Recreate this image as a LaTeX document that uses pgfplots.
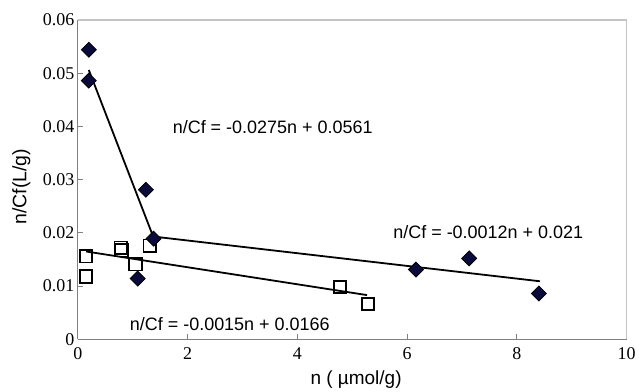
\documentclass[border=0pt]{standalone}
\usepackage{fontspec}
\setmainfont{Liberation Sans}
\newfontfamily\tickfont{Liberation Serif}
\usepackage{pgfplots}
\pgfplotsset{compat=1.18}
\definecolor{navy}{HTML}{0B0B3B}
\definecolor{axgray}{HTML}{808080}
\definecolor{boxgray}{HTML}{C4C4C4}
\begin{document}
\begin{tikzpicture}
\begin{axis}[
  scale only axis, width=550pt, height=320pt,
  xmin=0, xmax=10, ymin=0, ymax=0.06,
  axis x line*=bottom, axis y line*=left,
  axis line style={draw=axgray, line width=1.2pt},
  tick align=inside, major tick length=5pt,
  tick style={draw=axgray, line width=1pt},
  xtick={0,2,4,6,8,10}, xticklabels={0,2,4,6,8,10},
  ytick={0,0.01,0.02,0.03,0.04,0.05,0.06},
  yticklabels={0,0.01,0.02,0.03,0.04,0.05,0.06},
  scaled y ticks=false, scaled x ticks=false,
  ticklabel style={font=\tickfont\fontsize{18}{20}\selectfont},
  xticklabel style={yshift=-5pt},
  xlabel={n ( µmol/g)}, ylabel={n/Cf(L/g)},
  xlabel style={font=\fontsize{19}{22}\selectfont, at={(axis description cs:0.507,-0.125)}, anchor=center},
  ylabel style={font=\fontsize{19.5}{22}\selectfont, at={(axis description cs:-0.103,0.478)}, anchor=center},
  clip=false,
]
\draw[boxgray, line width=1.2pt] (rel axis cs:0,1) -- (rel axis cs:1,1) -- (rel axis cs:1,0);
% fitted lines
\addplot[black, line width=1.8pt, no marks] coordinates {(0.2,0.0506) (1.38,0.0191)};
\addplot[black, line width=1.8pt, no marks] coordinates {(1.38,0.0193) (8.42,0.0109)};
\addplot[black, line width=1.8pt, no marks] coordinates {(0.15,0.0165) (5.27,0.0083)};
% open squares
\addplot[only marks, mark=square, mark size=6.2pt, mark options={draw=black, line width=1.8pt}] coordinates {
 (0.15,0.0156) (0.15,0.0118) (0.78,0.0172) (0.80,0.0167) (1.05,0.0141) (1.31,0.0176) (4.78,0.0098) (5.29,0.0066)};
% diamonds
\addplot[only marks, mark=square*, mark size=5.3pt, mark options={rotate=45, fill=navy, draw=black, line width=0.8pt}] coordinates {
 (0.2,0.0544) (0.2,0.0486) (1.24,0.0281) (1.38,0.0189) (1.09,0.0114) (6.16,0.0131) (7.13,0.0152) (8.4,0.0086)};
\node[anchor=west, inner sep=0, font=\fontsize{18}{20}\selectfont] at (axis cs:1.727,0.0399) {n/Cf = -0.0275n + 0.0561};
\node[anchor=west, inner sep=0, font=\fontsize{18}{20}\selectfont] at (axis cs:5.745,0.0201) {n/Cf = -0.0012n + 0.021};
\node[anchor=west, inner sep=0, font=\fontsize{18}{20}\selectfont] at (axis cs:0.945,0.0028) {n/Cf = -0.0015n + 0.0166};
\end{axis}
\path ([shift={(-78pt,-48pt)}]current axis.south west) rectangle ([shift={(11pt,20pt)}]current axis.north east);
\end{tikzpicture}
\end{document}
